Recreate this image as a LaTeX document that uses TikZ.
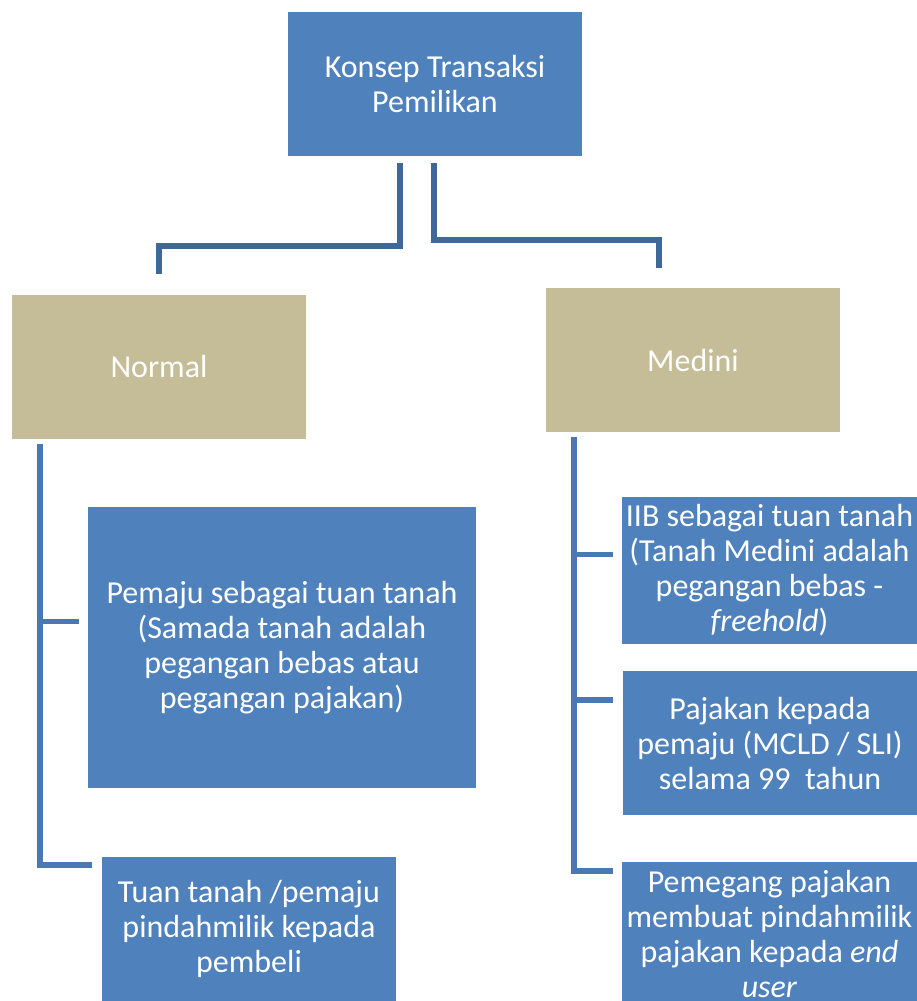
\documentclass[tikz,border=0pt]{standalone}
\usepackage{fontspec}
\setmainfont{Carlito}
\definecolor{boxblue}{HTML}{4F81BD}
\definecolor{boxtan}{HTML}{C4BD97}
\definecolor{linkdark}{HTML}{3F6797}
\definecolor{linkblue}{HTML}{4A78B2}
\begin{document}
\begin{tikzpicture}[x=1pt,y=-1pt,
  bluebox/.style={fill=boxblue,text=white,align=center,inner sep=0pt,font=\fontsize{32}{35}\selectfont},
  tanbox/.style={fill=boxtan,text=white,align=center,inner sep=0pt,font=\fontsize{32}{35}\selectfont,minimum width=294,minimum height=144},
  link/.style={draw=linkdark,line width=5.5pt},
  tree/.style={draw=linkblue,line width=5.5pt}]
  \useasboundingbox (0,0) rectangle (917,1001);

  \node[bluebox,minimum width=294,minimum height=144] (konsep) at (435,84) {Konsep Transaksi\\Pemilikan};
  \node[tanbox] (normal) at (159,367) {Normal};
  \node[tanbox] (medini) at (693,360) {Medini};

  \node[bluebox,minimum width=388,minimum height=281] (pemaju) at (282,647.5) {Pemaju sebagai tuan tanah\\(Samada tanah adalah\\pegangan bebas atau\\pegangan pajakan)};
  \node[bluebox,minimum width=294,minimum height=144] (tuan) at (249,929) {Tuan tanah /pemaju\\pindahmilik kepada\\pembeli};

  \node[bluebox,minimum width=295,minimum height=147] (iib) at (769.5,570.5) {IIB sebagai tuan tanah\\(Tanah Medini adalah\\pegangan bebas -\\\textit{freehold})};
  \node[bluebox,minimum width=294,minimum height=144] (pajakan) at (770,743) {Pajakan kepada\\pemaju (MCLD / SLI)\\selama 99~ tahun};
  \node[bluebox,minimum width=295,minimum height=144] (pemegang) at (769.5,934) {Pemegang pajakan\\membuat pindahmilik\\pajakan kepada \textit{end}\\\textit{user}};

  \coordinate (kl) at ([xshift=-35pt,yshift=-7pt]konsep.south);
  \coordinate (kr) at ([xshift=-1pt,yshift=-7pt]konsep.south);
  \coordinate (nl) at ([yshift=21pt]normal.north);
  \coordinate (mr) at ([xshift=-34pt,yshift=20pt]medini.north);
  \draw[link] (kl) -- ++(0,83) -| (nl);
  \draw[link] (kr) -- ++(0,77) -| (mr);

  \coordinate (ns) at ([xshift=28pt,yshift=-5pt]normal.south west);
  \coordinate (p1) at ([xshift=-9pt,yshift=26pt]pemaju.west);
  \coordinate (t1) at ([xshift=-10pt,yshift=-8pt]tuan.north west);
  \draw[tree] (ns) |- (t1);
  \draw[tree] (p1) -- (p1 -| ns);

  \coordinate (ms) at ([xshift=28pt,yshift=-5pt]medini.south west);
  \coordinate (r1) at ([xshift=-9pt,yshift=16pt]iib.west);
  \coordinate (r2) at ([xshift=-10pt,yshift=43pt]pajakan.west);
  \coordinate (r3) at ([xshift=-9pt,yshift=-9pt]pemegang.north west);
  \draw[tree] (ms) |- (r3);
  \draw[tree] (r1) -- (r1 -| ms);
  \draw[tree] (r2) -- (r2 -| ms);
\end{tikzpicture}
\end{document}
